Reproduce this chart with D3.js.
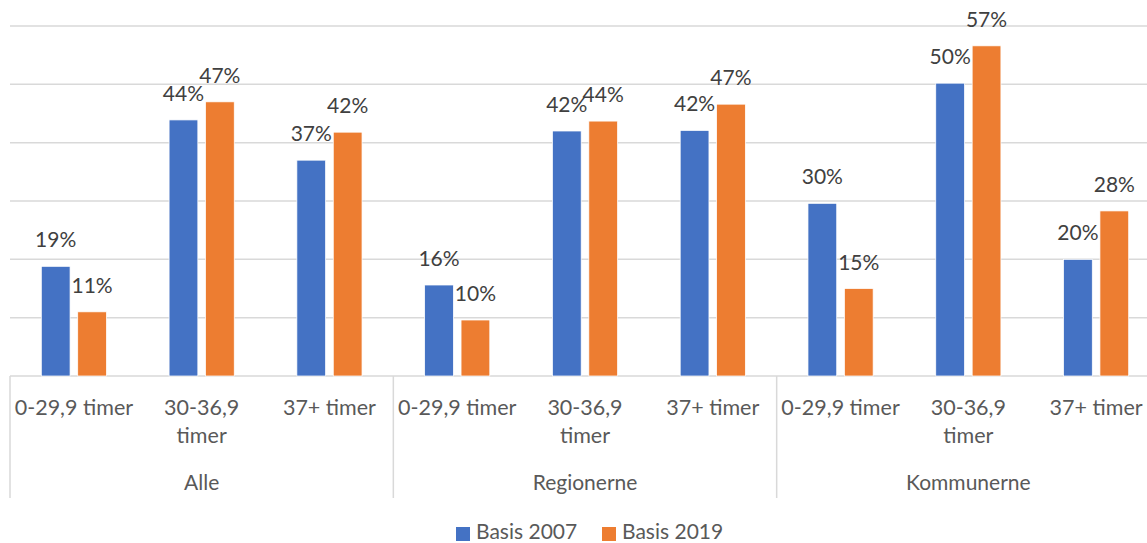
<!DOCTYPE html>
<html>
<head>
<meta charset="utf-8">
<script src="https://cdn.jsdelivr.net/npm/d3@7"></script>
<style>
  body { margin: 0; background: #fff; }
  text { font-family: Lato, "Open Sans", sans-serif; }
</style>
</head>
<body>
<script>
const groups = ['Alle', 'Regionerne', 'Kommunerne']
const categories = ['0-29,9 timer', '30-36,9\ntimer', '37+ timer']
const series = ['Basis 2007', 'Basis 2019']
const colors = ['#4472C4', '#ED7D31']
// percent values, group by group, category by category
const basis2007 = [18.8, 43.9, 37.0, 15.6, 42.0, 42.1, 29.6, 50.2, 20.0]
const basis2019 = [11.0, 47.0, 41.8, 9.6, 43.7, 46.6, 15.0, 56.6, 28.3]
const yTicks = [0, 10, 20, 30, 40, 50, 60]

const WIDTH = 1147
const HEIGHT = 543
const plotLeft = 10
const plotRight = 1160
const plotTop = 26
const base = 376

const rows = []
groups.forEach((g, gi) => {
  categories.forEach((c, ci) => {
    const i = gi * categories.length + ci
    rows.push({ group: g, cat: c, values: [basis2007[i], basis2019[i]] })
  })
})

const svg = d3.select(document.body).append('svg')
  .attr('width', WIDTH)
  .attr('height', HEIGHT)

const y = d3.scaleLinear().domain([0, 60]).range([base, plotTop])
const xGroup = d3.scaleBand().domain(groups).range([plotLeft, plotRight])
const xCat = d3.scaleBand().domain(categories).range([0, xGroup.bandwidth()])
const xSeries = d3.scaleBand().domain(series).range([0, xCat.bandwidth()])
  .paddingInner(0.21).paddingOuter(0.86)

// gridlines
svg.append('g').selectAll('line')
  .data(yTicks)
  .enter()
  .append('line')
  .attr('x1', plotLeft)
  .attr('x2', plotRight)
  .attr('y1', d => y(d))
  .attr('y2', d => y(d))
  .attr('stroke', '#D9D9D9')
  .attr('stroke-width', 1.5)

// group dividers
svg.append('g').selectAll('line')
  .data(groups.concat(['end']))
  .enter()
  .append('line')
  .attr('x1', (d, i) => plotLeft + i * xGroup.step())
  .attr('x2', (d, i) => plotLeft + i * xGroup.step())
  .attr('y1', base)
  .attr('y2', 498)
  .attr('stroke', '#D9D9D9')
  .attr('stroke-width', 1.5)

const cell = svg.append('g').selectAll('g')
  .data(rows)
  .enter()
  .append('g')
  .attr('transform', d => `translate(${xGroup(d.group) + xCat(d.cat)},0)`)

cell.selectAll('rect')
  .data(d => d.values)
  .enter()
  .append('rect')
  .attr('x', (d, i) => xSeries(series[i]))
  .attr('y', d => y(d))
  .attr('width', xSeries.bandwidth())
  .attr('height', d => base - y(d))
  .attr('fill', (d, i) => colors[i])
  .attr('stroke', '#fff')
  .attr('stroke-width', 0.75)

cell.selectAll('text.val')
  .data(d => d.values)
  .enter()
  .append('text')
  .attr('class', 'val')
  .attr('x', (d, i) => xSeries(series[i]) + xSeries.bandwidth() / 2)
  .attr('y', d => y(d) - 19)
  .attr('text-anchor', 'middle')
  .attr('font-size', 21)
  .attr('fill', '#404040')
  .text(d => Math.round(d) + '%')

// category labels
cell.append('text')
  .attr('x', xCat.bandwidth() / 2)
  .attr('text-anchor', 'middle')
  .attr('font-size', 21.5)
  .attr('fill', '#595959')
  .selectAll('tspan')
  .data(d => d.cat.split('\n'))
  .enter()
  .append('tspan')
  .attr('x', xCat.bandwidth() / 2)
  .attr('y', (d, i) => 415 + i * 28)
  .text(d => d)

// group labels
svg.append('g').selectAll('text')
  .data(groups)
  .enter()
  .append('text')
  .attr('x', d => xGroup(d) + xGroup.bandwidth() / 2)
  .attr('y', 490)
  .attr('text-anchor', 'middle')
  .attr('font-size', 21)
  .attr('fill', '#595959')
  .text(d => d)

// legend
const legend = svg.append('g').selectAll('g')
  .data(series)
  .enter()
  .append('g')
  .attr('transform', (d, i) => `translate(${456 + i * 146},0)`)

legend.append('rect')
  .attr('x', 0)
  .attr('y', 527)
  .attr('width', 14)
  .attr('height', 14)
  .attr('fill', (d, i) => colors[i])

legend.append('text')
  .attr('x', 20)
  .attr('y', 539)
  .attr('font-size', 21)
  .attr('fill', '#595959')
  .text(d => d)
</script>
</body>
</html>
